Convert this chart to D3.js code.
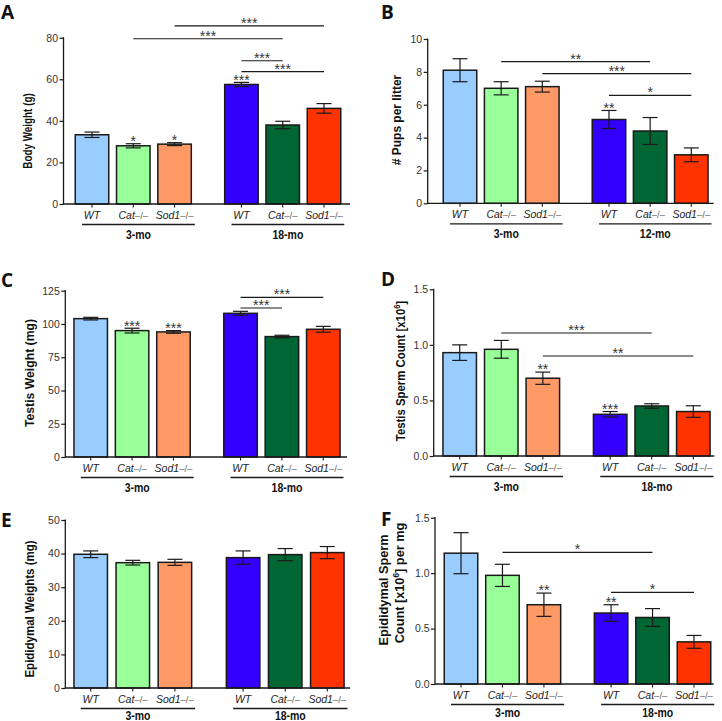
<!DOCTYPE html>
<html><head><meta charset="utf-8">
<script src="https://cdn.jsdelivr.net/npm/d3@7"></script>
<style>
html,body{margin:0;padding:0;background:#fff;}
svg text{font-family:"Liberation Sans",Arial,Helvetica,sans-serif;}
</style></head>
<body>
<svg id="chart" width="722" height="721"></svg>
<script>
// ---------------- DATA ----------------
const genotypes = ["WT", "Cat", "Sod1"];
const knockoutSuffix = "\u2013/\u2013";
const barColors = ["#99ccff", "#99ff99", "#ff9966", "#3300ff", "#006633", "#ff3300"];
const ages18 = ["3-mo", "18-mo"];
const ages12 = ["3-mo", "12-mo"];

// A: Body weight (g)
const bodyWeight = [33.3, 28.0, 28.8, 57.5, 38.0, 46.0];
const bodyWeightErr = [1.3, 1.0, 0.7, 1.0, 1.8, 2.3];
const bodyWeightTicks = [0, 20, 40, 60, 80];
const bodyWeightBrackets = [[2, 5, 85.7, "***"], [1, 4, 79.5, "***"], [3, 4, 68.9, "***"], [3, 5, 63.7, "***"]];
const bodyWeightStars = [[1, "*"], [2, "*"], [3, "***"]];

// B: Pups per litter
const pups = [8.1, 7.0, 7.1, 5.1, 4.4, 2.95];
const pupsErr = [0.7, 0.4, 0.33, 0.55, 0.82, 0.42];
const pupsTicks = [0, 2, 4, 6, 8, 10];
const pupsBrackets = [[1, 4, 8.62, "**"], [2, 5, 7.89, "***"], [3, 5, 6.57, "*"]];
const pupsStars = [[3, "**"]];

// C: Testis weight (mg)
const testisWeight = [104, 95, 94, 108, 90.5, 96];
const testisWeightErr = [1.0, 1.8, 1.0, 1.5, 1.0, 2.2];
const testisWeightTicks = [0, 25, 50, 75, 100, 125];
const testisWeightBrackets = [[3, 5, 120, "***"], [3, 4, 112, "***"]];
const testisWeightStars = [[1, "***"], [2, "***"]];

// D: Testis sperm count [x10^6]
const testisSperm = [0.93, 0.96, 0.70, 0.375, 0.45, 0.40];
const testisSpermErr = [0.07, 0.08, 0.055, 0.025, 0.02, 0.052];
const testisSpermTicks = [0, 0.5, 1.0, 1.5];
const testisSpermBrackets = [[1, 4, 1.107, "***"], [2, 5, 0.90, "**"]];
const testisSpermStars = [[2, "**"], [3, "***"]];

// E: Epididymal weights (mg)
const epiWeight = [39.8, 37.3, 37.4, 38.8, 39.7, 40.3];
const epiWeightErr = [1.0, 0.7, 0.9, 2.0, 1.8, 1.8];
const epiWeightTicks = [0, 10, 20, 30, 40, 50];
const epiWeightBrackets = [];
const epiWeightStars = [];

// F: Epididymal sperm count [x10^6] per mg
const epiSperm = [1.18, 0.98, 0.715, 0.64, 0.60, 0.38];
const epiSpermErr = [0.185, 0.10, 0.105, 0.075, 0.08, 0.058];
const epiSpermTicks = [0, 0.5, 1.0, 1.5];
const epiSpermBrackets = [[1, 4, 1.188, "*"], [3, 5, 0.827, "*"]];
const epiSpermStars = [[2, "**"], [3, "**"]];

// ---------------- DRAWING ----------------
const svg = d3.select("#chart");
const GAP = 0.62;       // extra group spacing in bar steps
const BW = 33.5;        // bar width
const CAP = 15;         // error cap width
const INK = "#1a1a1a";

function stext(parent, x, y, str, o) {
  o = o || {};
  const t = parent.append("text")
    .attr("transform", `translate(${x},${y}) rotate(${o.rotate || 0}) scale(${o.k || 1},1)`)
    .attr("font-size", o.size || 10)
    .attr("font-weight", o.weight || "normal")
    .attr("font-style", o.style || "normal")
    .attr("text-anchor", o.anchor || "middle")
    .attr("fill", o.fill || "#222");
  if (o.family) t.style("font-family", o.family);
  if (str !== null) t.text(str);
  return t;
}

function drawPanel(p) {
  const g = svg.append("g");
  const y = d3.scaleLinear().domain([0, p.ymax]).range([p.bottom, p.top]);
  const slots = [0, 1, 2, 3 + GAP, 4 + GAP, 5 + GAP];
  const x = d3.scaleLinear().domain([0, 5 + GAP]).range([p.firstC, p.lastC]);
  const cx = i => x(slots[i]);

  // bars
  g.selectAll("rect.bar").data(p.values).join("rect")
    .attr("class", "bar")
    .attr("x", (d, i) => cx(i) - BW / 2)
    .attr("y", d => y(d))
    .attr("width", BW)
    .attr("height", d => p.bottom - y(d))
    .attr("fill", (d, i) => barColors[i])
    .attr("stroke", INK).attr("stroke-width", 1.5);

  // error bars
  const eb = g.selectAll("g.err").data(p.values).join("g").attr("class", "err");
  eb.append("line")
    .attr("x1", (d, i) => cx(i)).attr("x2", (d, i) => cx(i))
    .attr("y1", (d, i) => y(d - p.errs[i])).attr("y2", (d, i) => y(d + p.errs[i]))
    .attr("stroke", INK).attr("stroke-width", 1.2);
  eb.append("line")
    .attr("x1", (d, i) => cx(i) - CAP / 2).attr("x2", (d, i) => cx(i) + CAP / 2)
    .attr("y1", (d, i) => y(d + p.errs[i])).attr("y2", (d, i) => y(d + p.errs[i]))
    .attr("stroke", INK).attr("stroke-width", 1.2);
  eb.append("line")
    .attr("x1", (d, i) => cx(i) - CAP / 2).attr("x2", (d, i) => cx(i) + CAP / 2)
    .attr("y1", (d, i) => y(d - p.errs[i])).attr("y2", (d, i) => y(d - p.errs[i]))
    .attr("stroke", INK).attr("stroke-width", 1.2);

  // y axis
  const ax = g.append("g").attr("transform", `translate(${p.axisX},0)`)
    .call(d3.axisLeft(y).tickValues(p.ticks).tickSize(4).tickPadding(1.5).tickFormat(p.fmt));
  ax.select(".domain").remove();
  ax.selectAll(".tick line").attr("stroke", INK).attr("stroke-width", 1.2);
  ax.selectAll(".tick text").attr("font-size", 10.5).attr("fill", "#333")
    .style("font-family", '"Liberation Sans",Arial,sans-serif');
  g.append("line").attr("x1", p.axisX).attr("x2", p.axisX)
    .attr("y1", y(p.ymax) - 0.6).attr("y2", p.bottom + 0.6)
    .attr("stroke", INK).attr("stroke-width", 1.3);

  // x axis
  g.append("line").attr("x1", p.axisX).attr("x2", p.axisEnd)
    .attr("y1", p.bottom).attr("y2", p.bottom)
    .attr("stroke", INK).attr("stroke-width", 1.3);
  g.selectAll("line.xt").data(p.values).join("line").attr("class", "xt")
    .attr("x1", (d, i) => cx(i)).attr("x2", (d, i) => cx(i))
    .attr("y1", p.bottom).attr("y2", p.bottom + 3.5)
    .attr("stroke", INK).attr("stroke-width", 1.1);

  // category labels
  const labelBoxes = [];
  p.values.forEach((d, i) => {
    const gi = i % 3;
    const t = stext(g, cx(i), p.bottom + 14.5, null, {size: 10.5, fill: "#222"});
    t.append("tspan").attr("font-style", "italic").text(genotypes[gi]);
    if (gi > 0) t.append("tspan").attr("font-size", 9.5).attr("fill", "#666").text(knockoutSuffix);
    labelBoxes.push(t.node().getBBox());
  });

  // group lines and labels
  [0, 1].forEach(grp => {
    const a = cx(grp * 3) - labelBoxes[grp * 3].width / 2 - 1;
    const b = cx(grp * 3 + 2) + labelBoxes[grp * 3 + 2].width / 2 + 1;
    g.append("line").attr("x1", a).attr("x2", b)
      .attr("y1", p.bottom + 20.5).attr("y2", p.bottom + 20.5)
      .attr("stroke", INK).attr("stroke-width", 1.3);
    stext(g, (a + b) / 2, p.bottom + (p.groupOff || 35), p.ages[grp], {size: 12.5, weight: "bold", k: 0.84, fill: "#111"});
  });

  // brackets
  p.brackets.forEach(([i0, i1, lvl, lab]) => {
    g.append("line").attr("x1", cx(i0)).attr("x2", cx(i1))
      .attr("y1", y(lvl)).attr("y2", y(lvl))
      .attr("stroke", INK).attr("stroke-width", 1.2);
    stext(g, (cx(i0) + cx(i1)) / 2, y(lvl) - 6 + 8, lab, {size: 14, fill: "#333"});
  });

  // bar stars
  p.stars.forEach(([i, lab]) => {
    const top = y(p.values[i] + p.errs[i]);
    stext(g, cx(i), top - 5.6 + 8, lab, {size: 14, fill: "#333"});
  });

  // y label
  p.ylabel.forEach(([lx, ly, k, parts]) => {
    const t = stext(g, lx, ly, null, {size: 13, weight: "bold", rotate: -90, k: k, fill: "#111"});
    let lastSup = false;
    parts.forEach(pt => {
      if (typeof pt === "string") {
        const s = t.append("tspan").text(pt);
        if (lastSup) s.attr("dy", 5);
        lastSup = false;
      } else {
        t.append("tspan").attr("font-size", 8.5).attr("dy", -5).text(pt.sup);
        lastSup = true;
      }
    });
  });

  // panel letter
  stext(g, p.letterX, p.letterY, p.letter, {size: 19, weight: "bold", anchor: "start", fill: "#111",
    family: '"Open Sans","Liberation Sans",Arial,sans-serif'});
}

const fmtInt = d3.format("d");
const fmt1 = d3.format(".1f");

drawPanel({letter: "A", letterX: 1, letterY: 19,
  values: bodyWeight, errs: bodyWeightErr, ticks: bodyWeightTicks, fmt: fmtInt, ymax: 80,
  brackets: bodyWeightBrackets, stars: bodyWeightStars, ages: ages18,
  axisX: 63.5, axisEnd: 350, top: 37.7, bottom: 204, firstC: 92, lastC: 324,
  ylabel: [[32, 131, 0.76, ["Body Weight (g)"]]]});

drawPanel({letter: "B", letterX: 381, letterY: 19,
  values: pups, errs: pupsErr, ticks: pupsTicks, fmt: fmtInt, ymax: 10,
  brackets: pupsBrackets, stars: pupsStars, ages: ages12,
  axisX: 427.7, axisEnd: 713.7, top: 39, bottom: 203.3, firstC: 460, lastC: 691.3,
  ylabel: [[401, 120, 0.92, ["# Pups per litter"]]]});

drawPanel({letter: "C", letterX: 1, letterY: 287,
  values: testisWeight, errs: testisWeightErr, ticks: testisWeightTicks, fmt: fmtInt, ymax: 125,
  brackets: testisWeightBrackets, stars: testisWeightStars, ages: ages18,
  axisX: 65.3, axisEnd: 347, top: 290.7, bottom: 457, firstC: 90.7, lastC: 323.3,
  ylabel: [[33.5, 373, 0.94, ["Testis Weight (mg)"]]]});

drawPanel({letter: "D", letterX: 381, letterY: 285.5,
  values: testisSperm, errs: testisSpermErr, ticks: testisSpermTicks, fmt: fmt1, ymax: 1.5,
  brackets: testisSpermBrackets, stars: testisSpermStars, ages: ages18,
  axisX: 433.7, axisEnd: 714.3, top: 289.3, bottom: 456, firstC: 459.7, lastC: 693.3,
  ylabel: [[404.5, 371, 0.875, ["Testis Sperm Count [x10", {sup: "6"}, "]"]]]});

drawPanel({letter: "E", letterX: 1, letterY: 527,
  values: epiWeight, errs: epiWeightErr, ticks: epiWeightTicks, fmt: fmtInt, ymax: 50,
  brackets: epiWeightBrackets, stars: epiWeightStars, ages: ages18, groupOff: 31.5,
  axisX: 65.3, axisEnd: 350, top: 520, bottom: 688, firstC: 90.7, lastC: 327.3,
  ylabel: [[33.5, 609, 0.885, ["Epididymal Weights (mg)"]]]});

drawPanel({letter: "F", letterX: 381, letterY: 525.5,
  values: epiSperm, errs: epiSpermErr, ticks: epiSpermTicks, fmt: fmt1, ymax: 1.5,
  brackets: epiSpermBrackets, stars: epiSpermStars, ages: ages18, groupOff: 33,
  axisX: 435, axisEnd: 713.7, top: 517.7, bottom: 684, firstC: 461, lastC: 694,
  ylabel: [[387.5, 590, 0.98, ["Epididymal Sperm"]], [404, 583, 0.98, ["Count [x10", {sup: "6"}, "] per mg"]]]});
</script>
</body></html>
